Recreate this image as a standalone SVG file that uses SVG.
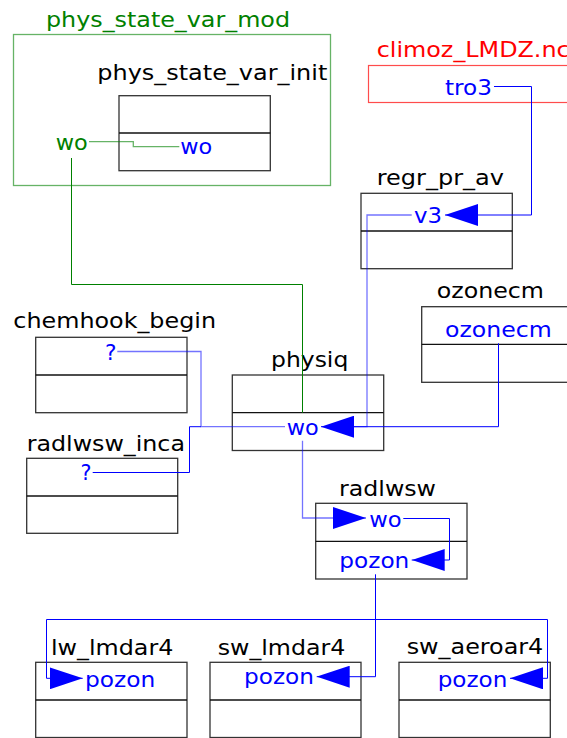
<svg xmlns="http://www.w3.org/2000/svg" width="567" height="738" viewBox="0 0 567 738">
<style>
text{font-family:"DejaVu Sans","Liberation Sans",sans-serif;font-size:21px}
.t{fill:#000}
.p{fill:#0000ff}
.g{fill:#008000}
.r{fill:#ff0000}
.box{fill:none;stroke:#333;stroke-width:1.3}
.div{stroke:#111;stroke-width:1.3}
.c{fill:none;stroke:#0000ff;stroke-width:1}
.cl{fill:none;stroke:#0000ff;stroke-width:1.3;stroke-opacity:0.55}
.cg{fill:none;stroke:#008000;stroke-width:1}
.cgl{fill:none;stroke:#008000;stroke-width:1.3;stroke-opacity:0.6}
</style>
<defs>
<marker id="ah" viewBox="0 0 33 22" refX="33" refY="11" markerWidth="33" markerHeight="22" markerUnits="userSpaceOnUse" orient="auto">
<path d="M0,0 L33,11 L0,22 z" fill="#0000ff"/>
</marker>
</defs>

<g id="phys_state_var_mod">
<rect x="13.5" y="34.5" width="317" height="151" fill="none" stroke="#008000" stroke-opacity="0.6" stroke-width="1.3"/>
<text class="g" x="46" y="27" textLength="244" lengthAdjust="spacingAndGlyphs">phys_state_var_mod</text>
<text class="g" x="55.7" y="149.5" textLength="32" lengthAdjust="spacingAndGlyphs">wo</text>
</g>

<g id="phys_state_var_init">
<text class="t" x="97.3" y="80" textLength="230" lengthAdjust="spacingAndGlyphs">phys_state_var_init</text>
<rect class="box" x="119" y="95.7" width="151.3" height="75"/>
<line class="div" x1="119" y1="133" x2="270.3" y2="133"/>
<text class="p" x="180.3" y="154" textLength="32" lengthAdjust="spacingAndGlyphs">wo</text>
</g>

<g id="climoz_LMDZ_nc">
<rect x="368.5" y="65.5" width="210" height="37" fill="none" stroke="#ff0000" stroke-opacity="0.7" stroke-width="1.2"/>
<text class="r" x="376.7" y="56.7" textLength="193" lengthAdjust="spacingAndGlyphs">climoz_LMDZ.nc</text>
<text class="p" x="445" y="95" textLength="47" lengthAdjust="spacingAndGlyphs">tro3</text>
</g>

<g id="regr_pr_av">
<text class="t" x="376.7" y="185" textLength="127.3" lengthAdjust="spacingAndGlyphs">regr_pr_av</text>
<rect class="box" x="361" y="193.3" width="151.3" height="75.4"/>
<line class="div" x1="361" y1="231" x2="512.3" y2="231"/>
<text class="p" x="414" y="222.7" textLength="28" lengthAdjust="spacingAndGlyphs">v3</text>
</g>

<g id="ozonecm">
<text class="t" x="436.7" y="298.3" textLength="107.3" lengthAdjust="spacingAndGlyphs">ozonecm</text>
<rect class="box" x="421.7" y="306.7" width="160" height="75.6"/>
<line class="div" x1="421.7" y1="344.3" x2="581.7" y2="344.3"/>
<text class="p" x="445" y="336.7" textLength="106.7" lengthAdjust="spacingAndGlyphs">ozonecm</text>
</g>

<g id="chemhook_begin">
<text class="t" x="13.3" y="328.3" textLength="202.7" lengthAdjust="spacingAndGlyphs">chemhook_begin</text>
<rect class="box" x="35.7" y="337.3" width="151.3" height="75.4"/>
<line class="div" x1="35.7" y1="375" x2="187" y2="375"/>
<text class="p" x="105" y="360" textLength="11.5" lengthAdjust="spacingAndGlyphs">?</text>
</g>

<g id="physiq">
<text class="t" x="271" y="367.3" textLength="77.3" lengthAdjust="spacingAndGlyphs">physiq</text>
<rect class="box" x="232.3" y="375" width="151.4" height="75.5"/>
<line class="div" x1="232.3" y1="412.7" x2="383.7" y2="412.7"/>
<text class="p" x="286.7" y="435" textLength="32" lengthAdjust="spacingAndGlyphs">wo</text>
</g>

<g id="radlwsw_inca">
<text class="t" x="26.7" y="450.7" textLength="158.3" lengthAdjust="spacingAndGlyphs">radlwsw_inca</text>
<rect class="box" x="26.7" y="458.3" width="151" height="75"/>
<line class="div" x1="26.7" y1="496" x2="177.7" y2="496"/>
<text class="p" x="80.5" y="480" textLength="11" lengthAdjust="spacingAndGlyphs">?</text>
</g>

<g id="radlwsw">
<text class="t" x="339" y="495.7" textLength="97" lengthAdjust="spacingAndGlyphs">radlwsw</text>
<rect class="box" x="315.7" y="503.3" width="151.3" height="75.7"/>
<line class="div" x1="315.7" y1="541.3" x2="467" y2="541.3"/>
<text class="p" x="369.3" y="526.5" textLength="32.4" lengthAdjust="spacingAndGlyphs">wo</text>
<text class="p" x="339.3" y="568.3" textLength="70" lengthAdjust="spacingAndGlyphs">pozon</text>
</g>

<g id="lw_lmdar4">
<text class="t" x="51" y="655" textLength="122.3" lengthAdjust="spacingAndGlyphs">lw_lmdar4</text>
<rect class="box" x="35.7" y="662.3" width="151.3" height="75.2"/>
<line class="div" x1="35.7" y1="700" x2="187" y2="700"/>
<text class="p" x="85" y="686.7" textLength="70.3" lengthAdjust="spacingAndGlyphs">pozon</text>
</g>

<g id="sw_lmdar4">
<text class="t" x="217.7" y="654.5" textLength="127.7" lengthAdjust="spacingAndGlyphs">sw_lmdar4</text>
<rect class="box" x="210" y="662.3" width="151" height="75.2"/>
<line class="div" x1="210" y1="700" x2="361" y2="700"/>
<text class="p" x="244" y="684.3" textLength="70" lengthAdjust="spacingAndGlyphs">pozon</text>
</g>

<g id="sw_aeroar4">
<text class="t" x="406.7" y="654.3" textLength="136.6" lengthAdjust="spacingAndGlyphs">sw_aeroar4</text>
<rect class="box" x="399" y="662.3" width="151.3" height="75.2"/>
<line class="div" x1="399" y1="700" x2="550.3" y2="700"/>
<text class="p" x="437.7" y="686.7" textLength="69.6" lengthAdjust="spacingAndGlyphs">pozon</text>
</g>

<g id="connectors">
<path class="cgl" d="M89,141.7 H133.3 V146.7 H179.3"/>
<path class="cg" d="M71.5,158 V284.5 H302.5 V412.7"/>
<path class="c" d="M494,86.5 H531.5 V215 H445" marker-end="url(#ah)"/>
<path class="cl" d="M411.7,215 H367 V426.7 H354"/>
<path class="c" d="M498.5,343.3 V426.7 H321" marker-end="url(#ah)"/>
<path class="cl" d="M117.3,351.5 H201 V426.7 H285"/>
<path class="c" d="M92.7,472.5 H189.5 V426.7 H201"/>
<path class="cl" d="M302.5,440.7 V518 H366" marker-end="url(#ah)"/>
<path class="c" d="M403.3,518.5 H449.5 V560 H411.7" marker-end="url(#ah)"/>
<path class="c" d="M375.5,574.3 V676.7 H316.7" marker-end="url(#ah)"/>
<path class="c" d="M375.5,619.5 H46.5 V678.3 H82.7" marker-end="url(#ah)"/>
<path class="c" d="M375.5,619.5 H547.5 V678.3 H510" marker-end="url(#ah)"/>
</g>
</svg>
